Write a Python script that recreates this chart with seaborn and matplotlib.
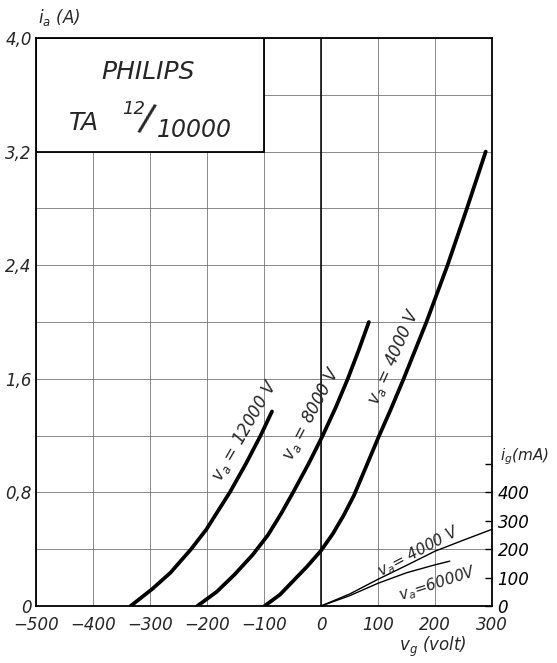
import numpy as np
import pandas as pd
import seaborn as sns
import matplotlib
matplotlib.use("Agg")
import matplotlib.pyplot as plt
from matplotlib.patches import Rectangle

# anode current i_a (A) vs grid voltage v_g (V)
vg_12000 = [-334, -296, -264, -228, -201, -179, -160, -132, -106, -86]
ia_12000 = [0.0, 0.12, 0.235, 0.40, 0.54, 0.68, 0.80, 1.00, 1.20, 1.37]

vg_8000 = [-217, -183, -152, -120, -93, -70, -49, -22, 3, 26, 47, 66, 84]
ia_8000 = [0.0, 0.10, 0.22, 0.36, 0.50, 0.65, 0.80, 1.00, 1.20, 1.40, 1.60, 1.80, 2.00]

vg_4000 = [-99, -72, -48, -24, 0, 21, 40, 58, 79, 101, 123, 145, 165, 185, 222, 256, 289]
ia_4000 = [0.0, 0.08, 0.18, 0.28, 0.39, 0.51, 0.64, 0.78, 0.98, 1.19, 1.39, 1.60,
           1.80, 2.00, 2.40, 2.80, 3.20]

# grid current i_g (mA)
vg_ig4000 = [0, 50, 100, 150, 200, 250, 300]
ig_4000 = [0, 42, 94, 143, 193, 232, 270]
vg_ig6000 = [0, 50, 100, 150, 200, 226]
ig_6000 = [0, 36, 80, 117, 145, 158]

x_ticks = [-500, -400, -300, -200, -100, 0, 100, 200, 300]
x_labels = ["\u2212500", "\u2212400", "\u2212300", "\u2212200", "\u2212100", "0", "100", "200", "300"]
y_ticks = [0, 0.4, 0.8, 1.2, 1.6, 2.0, 2.4, 2.8, 3.2, 3.6, 4.0]
y_labels = ["0", "", "0,8", "", "1,6", "", "2,4", "", "3,2", "", "4,0"]
ig_ticks = [0, 100, 200, 300, 400, 500]
ig_labels = ["0", "100", "200", "300", "400", ""]

sns.set_style("white")
plt.rcParams["font.family"] = ["DejaVu Sans"]
plt.rcParams["font.style"] = "italic"

fig = plt.figure(figsize=(5.57, 6.63), dpi=100, facecolor="w")
ax = fig.add_axes([36/557, 57/663, 456/557, 568/663])

ax.set_xlim(-500, 300)
ax.set_ylim(0, 4.0)
ax.set_xticks(x_ticks)
ax.set_xticklabels(x_labels, fontsize=12, style="italic")
ax.set_yticks(y_ticks)
ax.set_yticklabels(y_labels, fontsize=12, style="italic")
ax.tick_params(axis="x", length=0, pad=7)
ax.tick_params(axis="y", length=0, pad=3)
ax.grid(True, color="#6a6a6a", lw=0.55)
ax.set_axisbelow(True)
ax.axvline(0, color="black", lw=1.1, zorder=1.5)
for s in ax.spines.values():
    s.set_color("black")
    s.set_linewidth(1.3)

# title box in the upper-left corner
ax.add_patch(Rectangle((-500, 3.2), 400, 0.8, facecolor="white",
                       edgecolor="black", lw=1.3, zorder=2))
ax.text(-304, 3.76, "PHILIPS", fontsize=18, style="italic", ha="center", va="center", zorder=3)
ax.text(-416, 3.40, "TA", fontsize=18, style="italic", ha="center", va="center", zorder=3)
ax.text(-328, 3.50, "12", fontsize=13, style="italic", ha="center", va="center", zorder=3)
ax.text(-306, 3.42, "/", fontsize=27, style="normal", rotation=-14,
        ha="center", va="center", zorder=3)
ax.text(-222, 3.35, "10000", fontsize=17, style="italic", ha="center", va="center", zorder=3)

for vg, ia in [(vg_12000, ia_12000), (vg_8000, ia_8000), (vg_4000, ia_4000)]:
    sns.lineplot(x=vg, y=ia, sort=False, estimator=None, color="black",
                 linewidth=2.7, ax=ax, zorder=4)

ax.text(-133, 1.24, r"v$_\mathregular{a}$ = 12000 V", fontsize=12, style="italic",
        rotation=60, ha="center", va="center", rotation_mode="anchor")
ax.text(-16, 1.36, r"v$_\mathregular{a}$ = 8000 V", fontsize=12, style="italic",
        rotation=62, ha="center", va="center", rotation_mode="anchor")
ax.text(128, 1.76, r"v$_\mathregular{a}$ = 4000 V", fontsize=12, style="italic",
        rotation=66, ha="center", va="center", rotation_mode="anchor")

# right axis: grid current
ax2 = ax.twinx()
ax2.set_ylim(0, 2000)
ax2.set_yticks(ig_ticks)
ax2.set_yticklabels(ig_labels, fontsize=12, style="italic")
ax2.tick_params(axis="y", direction="in", length=5, width=1, pad=4, colors="black")
ax2.grid(False)
for s in ax2.spines.values():
    s.set_visible(False)

sns.lineplot(x=vg_ig4000, y=ig_4000, sort=False, estimator=None, color="black",
             linewidth=1.0, ax=ax2)
sns.lineplot(x=vg_ig6000, y=ig_6000, sort=False, estimator=None, color="black",
             linewidth=1.0, ax=ax2)
ax2.text(172, 192, r"v$_\mathregular{a}$= 4000 V", fontsize=11, style="italic",
         rotation=28, ha="center", va="center", rotation_mode="anchor")
ax2.text(205, 78, r"v$_\mathregular{a}$=6000V", fontsize=11, style="italic",
         rotation=18, ha="center", va="center", rotation_mode="anchor")
ax2.set_ylabel("")

# axis titles
fig.text(38/557, 1 - 17/663, r"i$_\mathregular{a}$ (A)", fontsize=12, style="italic",
         ha="left", va="center")
fig.text(500/557, 1 - 457/663, r"i$_\mathregular{g}$(mA)", fontsize=11, style="italic",
         ha="left", va="center")
fig.text(433/557, 1 - 647/663, r"v$_\mathregular{g}$ (volt)", fontsize=12, style="italic",
         ha="center", va="center")

fig.savefig("out.png", dpi=100)
